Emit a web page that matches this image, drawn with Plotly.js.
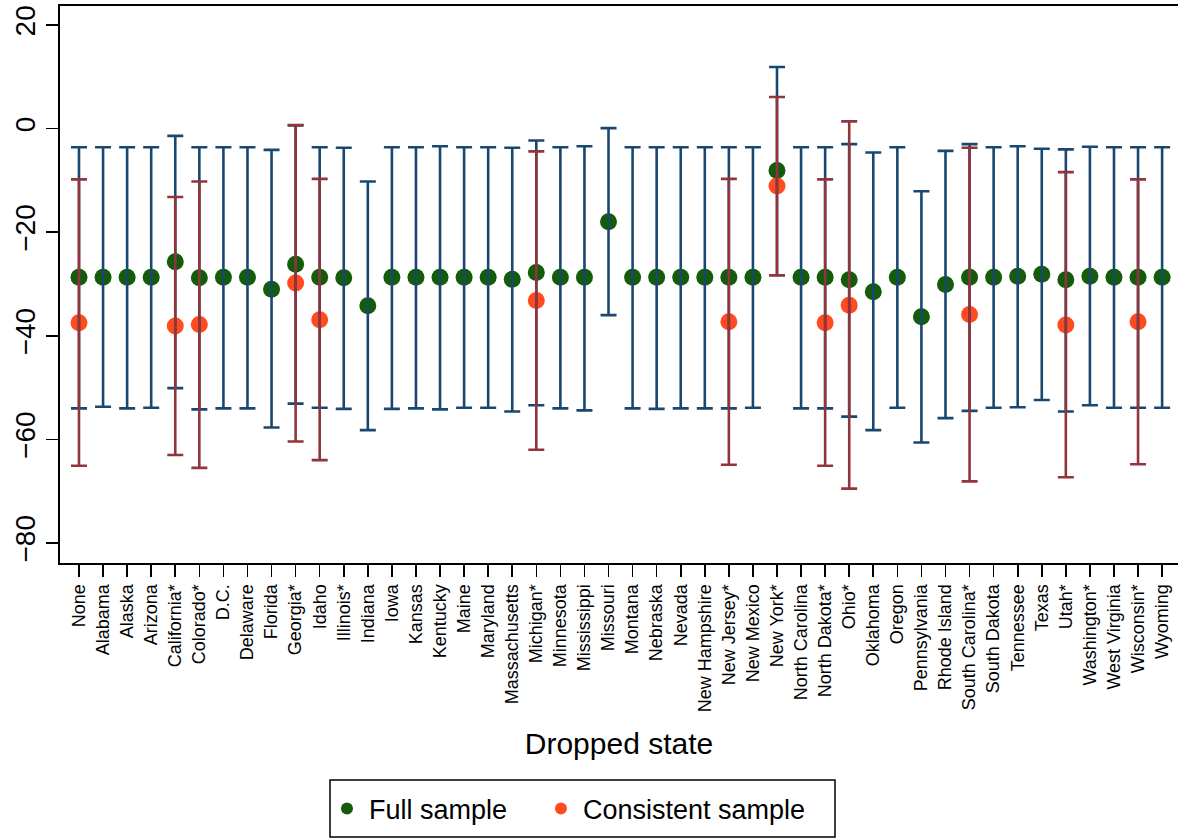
<!DOCTYPE html>
<html>
<head>
<meta charset="utf-8">
<script src="https://cdn.plot.ly/plotly-3.0.1.min.js"></script>
<style>html,body{margin:0;padding:0;background:#fff;}#chart{width:1178px;height:838px;}</style>
</head>
<body>
<div id="chart"></div>
<script>
const states = ["None","Alabama","Alaska","Arizona","California*","Colorado*","D.C.","Delaware","Florida","Georgia*","Idaho","Illinois*","Indiana","Iowa","Kansas","Kentucky","Maine","Maryland","Massachusetts","Michigan*","Minnesota","Mississippi","Missouri","Montana","Nebraska","Nevada","New Hampshire","New Jersey*","New Mexico","New York*","North Carolina","North Dakota*","Ohio*","Oklahoma","Oregon","Pennsylvania","Rhode Island","South Carolina*","South Dakota","Tennessee","Texas","Utah*","Washington*","West Virginia","Wisconsin*","Wyoming"];

const fullEst = [-28.7,-28.7,-28.7,-28.7,-25.7,-28.8,-28.7,-28.7,-31.0,-26.2,-28.7,-28.8,-34.2,-28.7,-28.7,-28.7,-28.7,-28.7,-29.1,-27.8,-28.7,-28.7,-18.0,-28.7,-28.7,-28.7,-28.7,-28.7,-28.7,-8.1,-28.7,-28.7,-29.2,-31.5,-28.7,-36.3,-30.1,-28.7,-28.7,-28.5,-28.1,-29.2,-28.5,-28.7,-28.7,-28.7];
const fullHi  = [-3.6,-3.6,-3.6,-3.6,-1.4,-3.6,-3.6,-3.6,-4.1,0.6,-3.6,-3.7,-10.2,-3.6,-3.6,-3.4,-3.6,-3.6,-3.7,-2.3,-3.6,-3.4,0.1,-3.6,-3.6,-3.6,-3.6,-3.6,-3.6,11.9,-3.6,-3.6,-3.0,-4.6,-3.6,-12.1,-4.3,-3.0,-3.6,-3.4,-3.9,-4.0,-3.5,-3.6,-3.6,-3.6];
const fullLo  = [-54.0,-53.7,-54.0,-53.9,-50.1,-54.2,-54.0,-54.0,-57.7,-53.1,-53.9,-54.1,-58.2,-54.1,-54.0,-54.2,-53.9,-53.9,-54.6,-53.4,-54.0,-54.4,-36.0,-54.0,-54.1,-54.0,-54.0,-54.0,-53.9,-28.3,-54.0,-54.0,-55.6,-58.2,-53.9,-60.6,-55.9,-54.5,-53.9,-53.8,-52.4,-54.6,-53.4,-53.9,-53.9,-53.9];

const consEst = [-37.5,null,null,null,-38.1,-37.8,null,null,null,-29.8,-36.9,null,null,null,null,null,null,null,null,-33.2,null,null,null,null,null,null,null,-37.3,null,-11.1,null,-37.5,-34.1,null,null,null,null,-35.9,null,null,null,-37.9,null,null,-37.3,null];
const consHi  = [-9.8,null,null,null,-13.2,-10.2,null,null,null,0.7,-9.7,null,null,null,null,null,null,null,null,-4.4,null,null,null,null,null,null,null,-9.7,null,6.1,null,-9.8,1.4,null,null,null,null,-3.7,null,null,null,-8.4,null,null,-9.8,null];
const consLo  = [-65.1,null,null,null,-63.0,-65.5,null,null,null,-60.4,-64.0,null,null,null,null,null,null,null,null,-62.0,null,null,null,null,null,null,null,-64.9,null,-28.3,null,-65.1,-69.5,null,null,null,null,-68.1,null,null,null,-67.3,null,null,-64.8,null];

const yTicks = [-80,-60,-40,-20,0,20];
const yTickText = ["\u221280","\u221260","\u221240","\u221220","0","20"];

const up = (e, h) => e.map((v, i) => v == null ? null : +(h[i] - v).toFixed(2));
const dn = (e, l) => e.map((v, i) => v == null ? null : +(v - l[i]).toFixed(2));

const FONT = '"Liberation Sans", Arial, Helvetica, sans-serif';
const GREEN = '#145c0b', ORANGE = '#ff4b1f', NAVY = '#1a476f', CRAN = '#90353b';

const traces = [
  {x: states, y: fullEst, type: 'scatter', mode: 'markers', name: 'Full sample', legend: 'legend',
   marker: {color: GREEN, size: 17}, hoverinfo: 'skip'},
  {x: states, y: consEst, type: 'scatter', mode: 'markers', name: 'Consistent sample', legend: 'legend2',
   marker: {color: ORANGE, size: 17}, hoverinfo: 'skip'},
  {x: states, y: fullEst, type: 'scatter', mode: 'markers', showlegend: false,
   marker: {color: NAVY, size: 1, opacity: 0}, hoverinfo: 'skip',
   error_y: {type: 'data', symmetric: false, array: up(fullEst, fullHi), arrayminus: dn(fullEst, fullLo),
             color: NAVY, thickness: 2.6, width: 8}},
  {x: states, y: consEst, type: 'scatter', mode: 'markers', showlegend: false,
   marker: {color: CRAN, size: 1, opacity: 0}, hoverinfo: 'skip',
   error_y: {type: 'data', symmetric: false, array: up(consEst, consHi), arrayminus: dn(consEst, consLo),
             color: CRAN, thickness: 2.6, width: 8}}
];

const legendBase = {
  orientation: 'h', xanchor: 'left', y: -0.4416, yanchor: 'middle',
  borderwidth: 0, bgcolor: 'rgba(0,0,0,0)',
  font: {size: 27, family: FONT, color: '#000'},
  itemwidth: 34, itemsizing: 'constant'
};

const layout = {
  width: 1178, height: 838,
  margin: {l: 60, r: 0, t: 6, b: 275, pad: 0},
  paper_bgcolor: '#fff', plot_bgcolor: '#fff',
  font: {family: FONT, color: '#000'},
  showlegend: true,
  xaxis: {
    type: 'category', categoryorder: 'array', categoryarray: states,
    range: [-0.789, 45.66], fixedrange: true,
    showline: true, linecolor: '#000', linewidth: 2, mirror: true,
    showgrid: false, zeroline: false,
    ticks: 'outside', ticklen: 12, tickwidth: 1.6, tickcolor: '#000',
    tickangle: -90, tickfont: {size: 18, family: FONT, color: '#000'},
    title: {text: 'Dropped state', font: {size: 30, family: FONT, color: '#000'}, standoff: 22}
  },
  yaxis: {
    range: [-83.86, 23.67], fixedrange: true,
    tickvals: yTicks, ticktext: yTickText,
    showline: true, linecolor: '#000', linewidth: 2,
    showgrid: false, zeroline: false,
    ticks: 'outside', ticklen: 12, tickwidth: 1.6, tickcolor: '#000',
    tickangle: -90, tickfont: {size: 28, family: FONT, color: '#000'}
  },
  legend: Object.assign({}, legendBase, {x: 0.237}),
  legend2: Object.assign({}, legendBase, {x: 0.4284}),
  shapes: [
    {type: 'rect', xref: 'paper', yref: 'paper', x0: 0.2415, x1: 0.6932, y0: -0.3896, y1: -0.4919,
     line: {color: '#000', width: 1.5}, fillcolor: 'rgba(0,0,0,0)', layer: 'below'}
  ]
};

Plotly.newPlot('chart', traces, layout, {displayModeBar: false, staticPlot: true});
</script>
</body>
</html>
